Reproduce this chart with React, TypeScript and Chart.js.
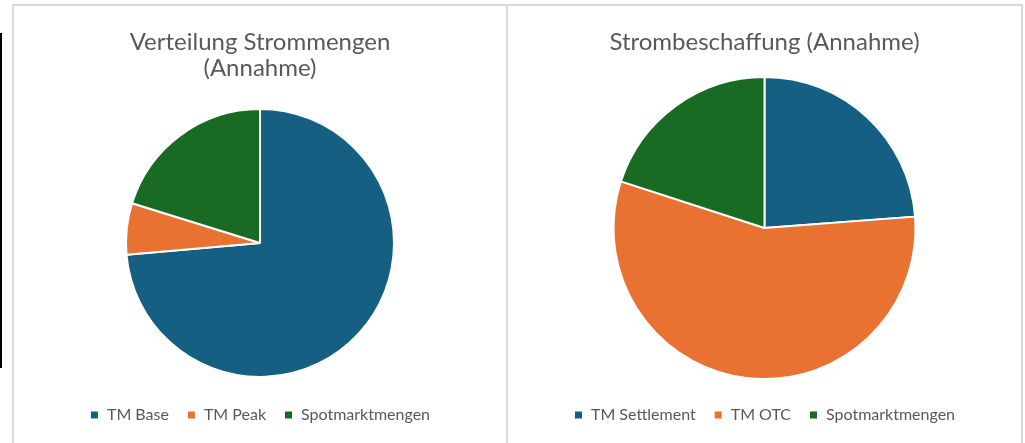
import React, { useEffect, useRef } from "react";
import { Chart, registerables } from "chart.js";

Chart.register(...registerables);

const COLORS = ["#156082", "#E97132", "#196B24"];
const TEXT_COLOR = "#595959";
const FONT = "Lato, 'Open Sans', sans-serif";

const chart1Title = ["Verteilung Strommengen", "(Annahme)"];
const chart1Labels = ["TM Base", "TM Peak", "Spotmarktmengen"];
const chart1Values = [73.6, 6.2, 20.2];

const chart2Title = "Strombeschaffung (Annahme)";
const chart2Labels = ["TM Settlement", "TM OTC", "Spotmarktmengen"];
const chart2Values = [23.8, 56.2, 20.0];

type PieProps = {
  width: number;
  height: number;
  title: string | string[];
  labels: string[];
  values: number[];
  titlePadBottom: number;
  radius: number;
};

function PieChart({ width, height, title, labels, values, titlePadBottom, radius }: PieProps) {
  const ref = useRef<HTMLCanvasElement | null>(null);
  useEffect(() => {
    if (!ref.current) return;
    const chart = new Chart(ref.current, {
      type: "pie",
      data: {
        labels,
        datasets: [
          {
            data: values,
            backgroundColor: COLORS,
            borderColor: "#ffffff",
            borderWidth: 2,
          },
        ],
      },
      options: {
        responsive: false,
        animation: false,
        devicePixelRatio: 1,
        radius,
        layout: { padding: { top: 0, left: 0, right: 0, bottom: 10 } },
        plugins: {
          title: {
            display: true,
            text: title,
            color: TEXT_COLOR,
            font: { family: FONT, size: 24, weight: "normal", lineHeight: 26 / 24 },
            padding: { top: 23, bottom: titlePadBottom },
          },
          legend: {
            display: true,
            position: "bottom",
            labels: {
              boxWidth: 9,
              boxHeight: 9,
              padding: 18,
              color: TEXT_COLOR,
              font: { family: FONT, size: 16 },
            },
          },
          tooltip: { enabled: false },
        },
      } as any,
    });
    return () => chart.destroy();
  }, []);
  return <canvas ref={ref} width={width} height={height} style={{ display: "block", width, height }} />;
}

export default function App() {
  const border = "2px solid #d9d9d9";
  return (
    <div style={{ position: "absolute", left: 0, top: 0, width: 1025, height: 443, overflow: "hidden", background: "#fff" }}>
      <div style={{ position: "absolute", left: 0, top: 33, width: 2, height: 335, background: "#000" }} />
      <div
        style={{
          position: "absolute",
          left: 12,
          top: 4,
          width: 496,
          height: 460,
          border,
          borderBottom: "none",
          boxSizing: "border-box",
        }}
      >
        <PieChart
          width={492}
          height={437}
          title={chart1Title}
          labels={chart1Labels}
          values={chart1Values}
          titlePadBottom={16}
          radius={134}
        />
      </div>
      <div
        style={{
          position: "absolute",
          left: 506,
          top: 4,
          width: 517,
          height: 460,
          border,
          borderBottom: "none",
          boxSizing: "border-box",
        }}
      >
        <PieChart
          width={513}
          height={437}
          title={chart2Title}
          labels={chart2Labels}
          values={chart2Values}
          titlePadBottom={12}
          radius={151}
        />
      </div>
    </div>
  );
}
